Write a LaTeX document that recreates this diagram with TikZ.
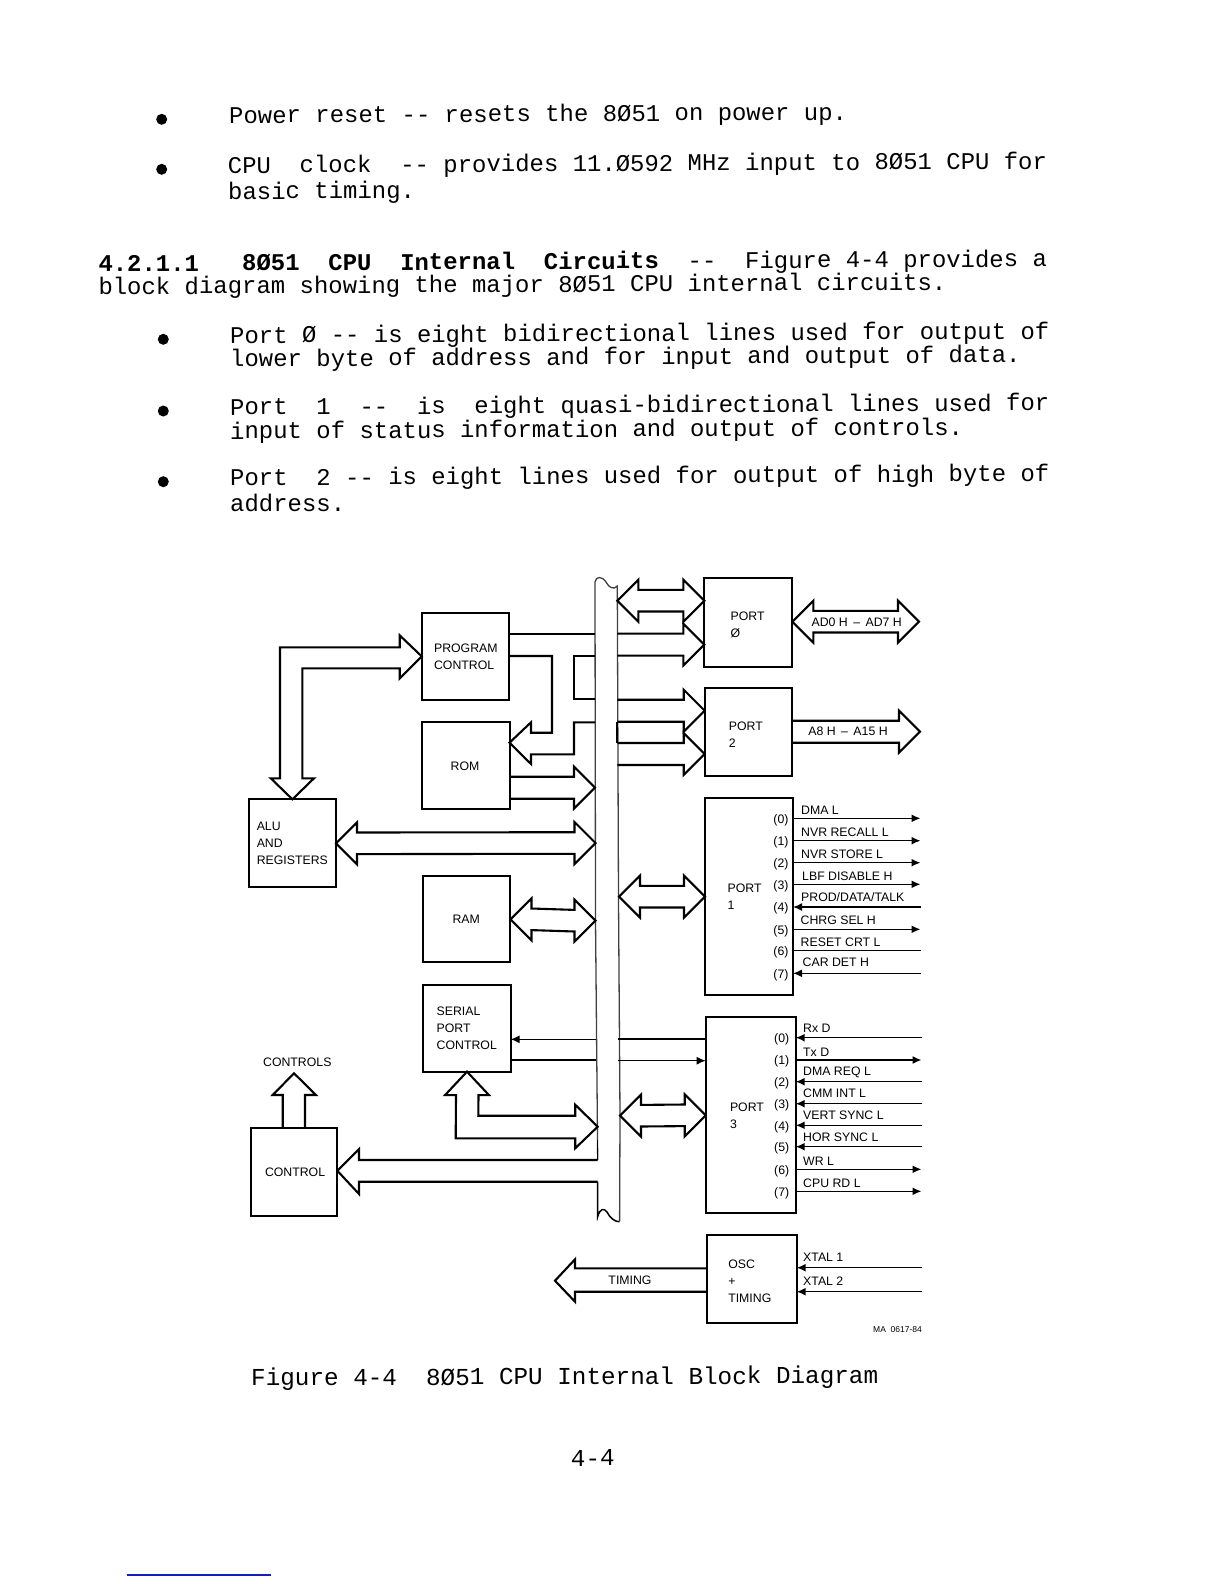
\documentclass[tikz,border=0pt]{standalone}
\usepackage{fontspec}
\setmainfont{Liberation Sans}
\newfontfamily\twfont{Liberation Mono}
\usetikzlibrary{arrows.meta,calc}
\definecolor{rulecol}{RGB}{20,30,190}
\tikzset{
  boxnode/.style n args={3}{draw=black,line width=2pt,outer sep=0pt,align=left,
    inner xsep=#2pt,text width=#1pt-2*#2pt,minimum height=#3pt,inner ysep=0pt,
    font=\fontsize{12.3}{17}\selectfont},
  wide/.style={draw=black,line width=2.1pt,line join=miter,miter limit=10},
  wire/.style={draw=black,line width=1.5pt},
  thinwire/.style={draw=black,line width=1.2pt},
  busedge/.style={draw=black!75,line width=1.3pt},
  lbl/.style={font=\fontsize{12.3}{17}\selectfont,inner sep=0pt,anchor=west},
  clbl/.style={font=\fontsize{12.3}{17}\selectfont,inner sep=0pt,anchor=center},
  sigout/.style={wire,-{Latex[length=9pt,width=8pt]}},
  sigin/.style={wire,{Latex[length=9pt,width=8pt]}-},
  sigplain/.style={wire},
  body/.style={font=\twfont\fontsize{23.95}{24}\selectfont,anchor=base west,inner sep=0pt,rotate=0.3},
  capt/.style={font=\twfont\fontsize{24.3}{24}\selectfont,anchor=base west,inner sep=0pt,rotate=0.2},
  bul/.style={circle,fill=black,inner sep=0pt,minimum size=11pt}
}
% double-headed wide arrow between two named tips
\newcommand\wdouble[2]{\draw[wide] (#1) -- ($(#1)+(21,-21)$) -- ($(#1)+(21,-10.8)$) -- ($(#2)+(-21,-10.8)$) -- ($(#2)+(-21,-21)$) -- (#2) -- ($(#2)+(-21,21)$) -- ($(#2)+(-21,10.8)$) -- ($(#1)+(21,10.8)$) -- ($(#1)+(21,21)$) -- cycle;}
% wide arrow from a vertical edge to a tip on the right
\newcommand\wright[2]{\draw[wide] ($(#1 |- #2)+(0,-11)$) -- ($(#2)+(-21,-11)$) -- ($(#2)+(-21,-21)$) -- (#2) -- ($(#2)+(-21,21)$) -- ($(#2)+(-21,11)$) -- ($(#1 |- #2)+(0,11)$);}
\begin{document}
\begin{tikzpicture}[x=1pt,y=-1pt]
\useasboundingbox (0,0) rectangle (1224,1584);

% ---------- body text ----------
\node[bul] (b1) at (161.7,119.3) {};
\node[body] (t1) at (229,123.3) {Power reset -{}- resets the 8Ø51 on power up.};
\node[bul] (b2) at (161.7,169.3) {};
\node[body] (t2) at (227.7,173.3) {CPU~~clock~~-{}- provides 11.Ø592 MHz input to 8Ø51 CPU for};
\node[body] (t3) at (228,199.3) {basic timing.};
\node[body] (t4) at (98.3,271.7) {{\bfseries 4.2.1.1~~~8Ø51~~CPU~~Internal~~Circuits}~~-{}-~~Figure 4-4 provides a};
\node[body] (t5) at (98.3,294.5) {block diagram showing the major 8Ø51 CPU internal circuits.};
\node[bul] (b3) at (163.3,339.3) {};
\node[body] (t6) at (230,343.3) {Port Ø -{}- is eight bidirectional lines used for output of};
\node[body] (t7) at (230,366.7) {lower byte of address and for input and output of data.};
\node[bul] (b4) at (163.3,411) {};
\node[body] (t8) at (230,415) {Port~~1~~-{}-~~is~~eight quasi-bidirectional lines used for};
\node[body] (t9) at (230,439) {input of status information and output of controls.};
\node[bul] (b5) at (163.3,481.7) {};
\node[body] (t10) at (230,485.7) {Port~~2 -{}- is eight lines used for output of high byte of};
\node[body] (t11) at (230,511.7) {address.};

% ---------- bus ----------
\draw[busedge] (595,582) .. controls (596,576) and (602,576) .. (606,582) .. controls (609,588) and (614,590) .. (617.3,586) -- (618.5,900) -- (620,1115) -- (619.6,1221);
\draw[busedge] (595,582) -- (595.5,920) -- (597.7,1160);
\draw[wire] (597.7,1181.7) -- (597.7,1216.7) .. controls (600,1208) and (604,1208) .. (607,1212) .. controls (610,1218) and (615,1222) .. (619.6,1221.7);

% ---------- blocks ----------
\node[boxnode={87.3}{12.3}{87.7}] (pc) at (465.4,656.4) {PROGRAM\\CONTROL};
\node[boxnode={87.8}{29}{87}] (rom) at (465.6,765.8) {ROM};
\node[boxnode={86.7}{7.7}{88}] (alu) at (292.4,843.3) {ALU\\AND\\REGISTERS};
\node[boxnode={87.7}{30}{86.6}] (ram) at (466.4,919) {RAM};
\node[boxnode={87.4}{13.4}{86.7}] (spc) at (467,1028.3) {SERIAL\\PORT\\CONTROL};
\node[boxnode={86.6}{14.3}{87.4}] (ctl) at (294,1172) {CONTROL};
\node[boxnode={87.4}{26.4}{88.7}] (p0) at (748,622.3) {\rule{0pt}{13.5pt}PORT\\Ø};
\node[boxnode={87.3}{24.3}{87.7}] (p2) at (748.3,732.2) {\rule{0pt}{13.5pt}PORT\\2};
\node[boxnode={88}{22.7}{196.7}] (p1) at (749,896.7) {PORT\\1};
\node[boxnode={90}{24.3}{196}] (p3) at (750.7,1115.3) {PORT\\3};
\node[boxnode={90}{21.6}{88}] (osc) at (751.7,1279) {\rule{0pt}{12.5pt}OSC\\+\\TIMING};

% ---------- wide connectors: left of the bus ----------
\draw[wide] (pc.west) -- ($(pc.west)+(-22,-21)$) -- ($(pc.west)+(-22,-9)$) -- (280,647.3) -- (280,778.3) -- ($(alu.north)+(-21.6,-21)$) -- (alu.north) -- ($(alu.north)+(21.6,-21)$) -- (302.3,778.3) -- (302.3,668.3) -- ($(pc.west)+(-22,12)$) -- ($(pc.west)+(-22,22)$) -- cycle;

\coordinate (busA) at (595,634);
\draw[wide] (pc.east |- busA) -- (busA);
\coordinate (pcB) at (509,656);
\coordinate (busB) at (595,722.3);
\coordinate (romT) at (509.5,742.7);
\draw[wide] (pcB) -- (552,656) -- (552,732.7) -- ($(romT)+(21.5,-10)$) -- ($(romT)+(21.5,-20.4)$) -- (romT) -- ($(romT)+(21.5,21.3)$) -- ($(romT)+(21.5,11.6)$) -- (574,754.3) -- (574,722.3) -- (busB);
\coordinate (busC) at (595,656);
\coordinate (busD) at (595,699.3);
\draw[wide] (busC) -- (574,656) -- (574,699.3) -- (busD);

\coordinate (romB) at (595,787.7);
\wright{rom.east}{romB}
\coordinate (aluT) at (336,843.3);
\coordinate (busE) at (595.5,843);
\wdouble{aluT}{busE}
\coordinate (ramT) at (510.5,919.3);
\coordinate (busF) at (595.5,920.7);
\wdouble{ramT}{busF}

% serial port control <-> bus
\coordinate (busG) at (597.7,1126.7);
\draw[wide] (spc.south) -- ($(spc.south)+(22,23.5)$) -- ($(spc.south)+(11.5,23.5)$) -- (478.3,1115.7) -- ($(busG)+(-22.5,-11)$) -- ($(busG)+(-22.5,-22)$) -- (busG) -- ($(busG)+(-22.5,21.6)$) -- ($(busG)+(-22.5,11.6)$) -- (455.7,1138.3) -- ($(spc.south)+(-11,23.5)$) -- ($(spc.south)+(-22,23.5)$) -- cycle;

% control block <-> bus
\coordinate (ctlT) at (337.3,1170.7);
\coordinate (busH) at (597.7,1160);
\coordinate (busI) at (597.7,1181.7);
\draw[wide] (busH) -- (359,1160) -- ($(ctlT)+(21.7,-21.7)$) -- (ctlT) -- ($(ctlT)+(21.7,23.3)$) -- (359,1181.7) -- (busI);
\draw[wire] (busH) -- (597.7,1140);

% controls output
\coordinate (ctlTop) at (294,1073.3);
\draw[wide] (282.7,1128.3) -- (282.7,1095) -- ($(ctlTop)+(-21.3,21.7)$) -- (ctlTop) -- ($(ctlTop)+(22,21.7)$) -- (305,1095) -- (305,1128.3);
\node[clbl] (controlslbl) at (297.3,1062.7) {CONTROLS};

% serial single lines, left of bus
\coordinate (busJ) at (596,1039.3);
\coordinate (busK) at (596,1060);
\draw[thinwire,{Latex[length=9pt,width=8pt]}-] (spc.east |- busJ) -- (busJ);
\draw[thinwire] (spc.east |- busK) -- (busK);

% ---------- wide connectors: right of the bus ----------
\coordinate (busP0) at (617.3,600.7);
\coordinate (p0T) at (704.3,600.7);
\wdouble{busP0}{p0T}
\coordinate (p0U) at (704.3,644.6);
\coordinate (busR1) at (617.3,644.6);
\wright{busR1}{p0U}
\coordinate (p0E) at (792.3,621.7);
\coordinate (ad) at (919,621.7);
\wdouble{p0E}{ad}
\node[clbl] (adlbl) at (856.7,622.5) {AD0 H \,–\, AD7 H};

\coordinate (busR2) at (617.3,710.7);
\coordinate (p2T) at (704.7,710.7);
\wright{busR2}{p2T}
\coordinate (busR3) at (617.3,754);
\coordinate (p2U) at (704.7,754);
\wright{busR3}{p2U}
\draw[wide] (617.3,721.7) -- (617.3,743);
\coordinate (a8) at (920,731.7);
\wright{p2.east}{a8}
\node[clbl] (a8lbl) at (848,731) {A8 H \,–\, A15 H};

\coordinate (busP1) at (619,896.7);
\coordinate (p1T) at (705,896.7);
\wdouble{busP1}{p1T}
\coordinate (busP3) at (620,1115.7);
\coordinate (p3T) at (705.7,1115.3);
\wdouble{busP3}{p3T}

\coordinate (busL) at (618,1039);
\coordinate (busM) at (618,1060.7);
\draw[thinwire] (busL) -- (p3.west |- busL);
\draw[thinwire,-{Latex[length=9pt,width=8pt]}] (busM) -- (p3.west |- busM);

% timing
\coordinate (tim) at (555,1280.7);
\draw[wide] (osc.west |- 0,1268.3) -- (575,1268.3) -- (575,1259.3) -- (tim) -- (575,1301.7) -- (575,1291.7) -- (osc.west |- 0,1291.7);
\node[clbl] (timlbl) at (630,1280) {TIMING};

% ---------- port 1 signals ----------
\foreach \i/\y/\ly/\lx/\t/\st in {0/818.3/810/801/{DMA L}/sigout,1/840.7/832/801/{NVR RECALL L}/sigout,2/862.7/854/801/{NVR STORE L}/sigout,3/884.3/876/802/{LBF DISABLE H}/sigout,4/907/897/801/{PROD/DATA/TALK}/sigin,5/929.3/920/800.5/{CHRG SEL H}/sigout,6/950.7/942/800.5/{RESET CRT L}/sigplain,7/973.3/962.5/802.5/{CAR DET H}/sigin}{
  \coordinate (e1\i) at (920.5,\y);
  \draw[\st] (p1.east |- e1\i) -- (e1\i);
  \node[clbl] (c1\i) at (781,\y+1.6) {(\i)};
  \node[lbl] (n1\i) at (\lx,\ly) {\t};
}

% ---------- port 3 signals ----------
\foreach \i/\y/\ly/\t/\st in {0/1037.7/1028/{Rx D}/sigin,1/1060/1052/{Tx D}/sigout,2/1081.7/1072.5/{DMA REQ L}/sigin,3/1103.7/1093.5/{CMM INT L}/sigin,4/1125.3/1115.5/{VERT SYNC L}/sigin,5/1146.7/1137/{HOR SYNC L}/sigin,6/1169.3/1161/{WR L}/sigout,7/1191.3/1183/{CPU RD L}/sigout}{
  \coordinate (e3\i) at (921.5,\y);
  \draw[\st] (p3.east |- e3\i) -- (e3\i);
  \node[clbl] (c3\i) at (781.7,\y+1.6) {(\i)};
  \node[lbl] (n3\i) at (803,\ly) {\t};
}

% ---------- xtal ----------
\coordinate (x1) at (922,1267.7);
\coordinate (x2) at (922,1291.7);
\draw[sigin] (osc.east |- x1) -- (x1);
\draw[sigin] (osc.east |- x2) -- (x2);
\node[lbl] (x1lbl) at (803,1257.7) {XTAL 1};
\node[lbl] (x2lbl) at (803,1280.7) {XTAL 2};

\node[font=\fontsize{8.5}{8.5}\selectfont,inner sep=0pt,anchor=west] (ma) at (873,1330) {MA\; 0617-84};

% ---------- caption, page number, rule ----------
\node[capt] (cap) at (251,1385.7) {Figure 4-4~~8Ø51 CPU Internal Block Diagram};
\node[capt,anchor=base] (pg) at (592.8,1466) {4-4};
\coordinate (ru1) at (126.7,1575);
\coordinate (ru2) at (271,1575);
\draw[rulecol,line width=1.2pt] (ru1) -- (ru2);
\end{tikzpicture}
\end{document}
